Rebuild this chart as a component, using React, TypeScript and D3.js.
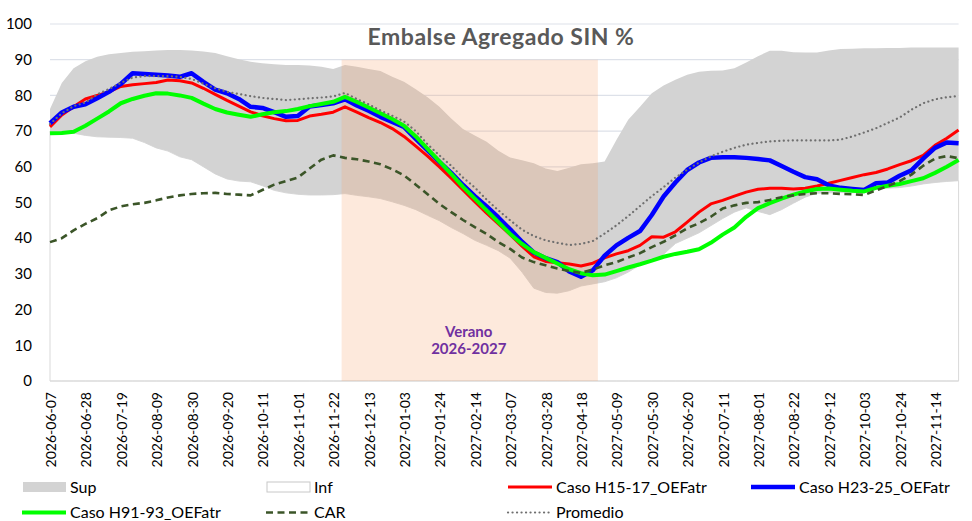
import React from 'react'
import * as d3 from 'd3'

const firstWeek = '2026-06-07'
const weekCount = 78

const tickLabels = [
  '2026-06-07', '2026-06-28', '2026-07-19', '2026-08-09', '2026-08-30', '2026-09-20', '2026-10-11',
  '2026-11-01', '2026-11-22', '2026-12-13', '2027-01-03', '2027-01-24', '2027-02-14', '2027-03-07',
  '2027-03-28', '2027-04-18', '2027-05-09', '2027-05-30', '2027-06-20', '2027-07-11', '2027-08-01',
  '2027-08-22', '2027-09-12', '2027-10-03', '2027-10-24', '2027-11-14'
]
const yTicks = [0, 10, 20, 30, 40, 50, 60, 70, 80, 90, 100]

const veranoStart = '2026-11-27'
const veranoEnd = '2027-04-28'
const veranoLabel = ['Verano', '2026-2027']

const sup = [76.2, 83.5, 87.6, 89.6, 90.8, 91.5, 91.9, 92.2, 92.4, 92.6,
  92.7, 92.7, 92.6, 92.3, 91.9, 91, 90.1, 89.4, 89, 88.7,
  88.5, 88.5, 88.4, 88, 87.4, 88.5, 88, 87.4, 86.8, 85.2,
  83.8, 81.7, 79.5, 76.8, 73.5, 70.6, 68.8, 67, 64.5, 62.6,
  61.8, 61, 59.5, 58.8, 59.7, 60.7, 61, 61.5, 67.5, 73.2,
  76.8, 80.6, 82.8, 84.4, 85.8, 86.6, 86.9, 87, 87.6, 89.2,
  91, 92.5, 92.5, 92.1, 92, 92, 92.6, 93, 93.1, 93.2,
  93.2, 93.3, 93.3, 93.4, 93.4, 93.4, 93.4, 93.4]

const inf = [70, 69.6, 69.4, 68.8, 68.4, 68.3, 68.2, 68, 66.8, 65.3,
  64.4, 62.8, 62, 60, 58, 56.6, 56, 55.8, 54.7, 53.4,
  52.7, 52.3, 52.1, 52.1, 52.2, 52.5, 52, 51.6, 51.1, 50.2,
  49.2, 48, 46.4, 44.9, 43, 41.3, 39.4, 38, 36.5, 34.4,
  30.5, 26, 24.8, 24.6, 25.3, 26.6, 27.2, 27.8, 28.9, 30.5,
  32.5, 33.5, 35.5, 38.5, 40, 41.5, 43.5, 45.5, 47.3, 48.5,
  47.5, 46.6, 48, 49.8, 51.5, 52.6, 52.7, 52.8, 52.7, 53,
  53.8, 54, 54.2, 54.6, 55.2, 55.6, 55.9, 56.1]

const casoH15 = [71.2, 74.5, 76.8, 79, 80, 81, 82.5, 83, 83.3, 83.6,
  84.3, 84.1, 83.5, 82, 80.3, 78.6, 77, 75.4, 74.3, 73.5,
  72.9, 73, 74.2, 74.7, 75.3, 76.8, 75.3, 73.8, 72.4, 70.7,
  68.5, 65.8, 63, 60, 56.8, 53.5, 50.2, 47, 44, 41,
  37.8, 34.8, 33.5, 33.1, 32.8, 32.2, 33, 34.5, 35.6, 36.5,
  38, 40.4, 40.3, 41.8, 44.5, 47.3, 49.6, 50.6, 51.8, 52.9,
  53.7, 54, 54, 53.8, 54, 54.6, 55.4, 56.2, 57, 57.8,
  58.4, 59.4, 60.6, 61.7, 63.2, 66, 68, 70.3]

const casoH23 = [72.2, 75.2, 76.8, 77.5, 79.2, 81, 83.2, 86.2, 86, 85.8,
  85.6, 85.2, 86.2, 83.8, 81.6, 80.6, 79, 76.8, 76.5, 75.3,
  74, 74.2, 76.9, 77.3, 77.8, 78.9, 77.2, 75.7, 74, 72.6,
  71.2, 67.8, 64.6, 61.4, 58.3, 54.9, 51.8, 48.9, 45.8, 42.5,
  39, 36, 34.4, 33.3, 30.7, 29.2, 31, 35.1, 38, 40.1,
  42, 46.5, 51.7, 55.6, 59.1, 61.2, 62.5, 62.7, 62.7, 62.5,
  62.2, 61.8, 60.2, 58.6, 57.1, 56.5, 54.8, 54.1, 53.8, 53.5,
  55.4, 55.6, 57.5, 59, 62.3, 65.3, 66.8, 66.6]

const casoH91 = [69.4, 69.5, 69.8, 71.5, 73.5, 75.5, 77.8, 79, 79.9, 80.6,
  80.5, 80, 79.3, 77.7, 76.2, 75.2, 74.6, 74, 74.7, 75.3,
  75.6, 76.2, 77, 77.6, 78.2, 79.6, 78.2, 76.6, 75, 73.4,
  71.5, 68.5, 65, 61.5, 58, 54.4, 51.1, 47.8, 44.5, 41.2,
  38.4, 36.1, 34.5, 32.9, 31.3, 30.2, 29.6, 29.8, 30.8, 31.8,
  32.7, 33.7, 34.8, 35.6, 36.2, 36.9, 38.7, 41, 43, 46,
  48.4, 49.8, 51.1, 52.2, 53.1, 53.8, 53.9, 53.6, 53.3, 53.1,
  54.1, 54.7, 55.2, 56, 56.8, 58.3, 60, 61.9]

const car = [38.9, 40, 42.2, 44, 45.6, 47.8, 48.9, 49.5, 49.9, 50.6,
  51.4, 52, 52.4, 52.6, 52.7, 52.4, 52.2, 52, 53.5, 55,
  56, 57, 59.5, 62, 63.2, 62.5, 62.1, 61.5, 60.7, 59.3,
  57.6, 55, 52.3, 49.6, 47.3, 45.1, 43.1, 41.2, 38.9, 37,
  34.6, 33.3, 32.4, 31.5, 30.8, 30.3, 31.2, 32.4, 33.3, 34.6,
  35.8, 37.5, 39, 40.8, 42.8, 44.2, 46, 48.3, 49.2, 49.9,
  50.1, 50.7, 51.5, 52, 52.4, 52.6, 52.6, 52.4, 52.3, 52.1,
  53.4, 54.6, 56, 57.8, 60.3, 62.3, 63, 62.4]

const promedio = [72, 75, 77, 78, 80.3, 81.8, 83.5, 85, 85.4, 85.4,
  85.4, 85.2, 84.6, 83.3, 82, 81, 80.4, 79.8, 79.3, 79,
  78.7, 78.9, 79.2, 79.4, 79.7, 80.7, 79, 77.5, 75.8, 74.3,
  72.7, 70, 66.3, 63.2, 60.3, 57, 54.2, 50.8, 47.8, 45,
  42.4, 40.6, 39.4, 38.7, 38.1, 38.4, 39.2, 41.3, 43.6, 46.2,
  49, 51.8, 54.3, 57, 59.2, 61.2, 62.9, 64.2, 65.3, 66.2,
  66.7, 67.1, 67.3, 67.4, 67.4, 67.4, 67.4, 67.6, 68.5, 69.6,
  70.8, 72.3, 73.8, 76, 77.8, 78.9, 79.5, 79.8]

const font = 'Lato, "Open Sans", sans-serif'
const parse = d3.utcParse('%Y-%m-%d')

const lineSeries = [
  { name: 'Caso H15-17_OEFatr', values: casoH15, color: '#ff0000', width: 3, dash: null as string | null, cap: 'butt' },
  { name: 'Caso H23-25_OEFatr', values: casoH23, color: '#0000ff', width: 4.5, dash: null, cap: 'butt' },
  { name: 'Caso H91-93_OEFatr', values: casoH91, color: '#00ff00', width: 4, dash: null, cap: 'butt' },
  { name: 'CAR', values: car, color: '#3b5528', width: 2.6, dash: '7,4.5', cap: 'butt' },
  { name: 'Promedio', values: promedio, color: '#6f6f6f', width: 2.2, dash: '0.1,4.4', cap: 'round' }
]

export default function App() {
  const width = 972
  const height = 521
  const left = 50
  const right = 958.6
  const top = 24
  const bottom = 381

  const start = parse(firstWeek) as Date
  const dates = d3.range(weekCount).map(i => d3.utcDay.offset(start, i * 7))

  const x = d3.scaleUtc().domain([dates[0], dates[dates.length - 1]]).range([left, right])
  const y = d3.scaleLinear().domain([0, 100]).range([bottom, top])

  const infArea = d3.area<number>().x((_, i) => x(dates[i])).y0(y(0)).y1(v => y(v))(inf)
  const bandArea = d3.area<number>().x((_, i) => x(dates[i])).y0((_, i) => y(inf[i])).y1(v => y(v))(sup)
  const lineGen = d3.line<number>().x((_, i) => x(dates[i])).y(v => y(v))

  const vx0 = x(parse(veranoStart) as Date)
  const vx1 = x(parse(veranoEnd) as Date)

  const legendRows = [
    [
      { kind: 'rect', fill: '#d3d3d3', stroke: 'none', label: 'Sup' },
      { kind: 'rect', fill: '#ffffff', stroke: '#c8c8c8', label: 'Inf' },
      { kind: 'line', s: lineSeries[0], label: lineSeries[0].name },
      { kind: 'line', s: lineSeries[1], label: lineSeries[1].name }
    ],
    [
      { kind: 'line', s: lineSeries[2], label: lineSeries[2].name },
      { kind: 'line', s: lineSeries[3], label: lineSeries[3].name },
      { kind: 'line', s: lineSeries[4], label: lineSeries[4].name }
    ]
  ]
  const legendCols = [22, 266, 508, 751]
  const legendRowsY = [487, 512.5]

  return (
    <svg width={width} height={height} viewBox={`0 0 ${width} ${height}`}
      style={{ position: 'absolute', left: 0, top: 0, background: '#fff' }} fontFamily={font}>
      {yTicks.filter(t => t > 0).map(t => (
        <line key={`g${t}`} x1={left} x2={right} y1={y(t)} y2={y(t)} stroke="#dde1e9" strokeWidth={1.2} />
      ))}
      <path d={infArea || ''} fill="#ffffff" stroke="#d9d9d9" strokeWidth={1} />
      <path d={bandArea || ''} fill="#d3d3d3" />
      <line x1={left} x2={right} y1={bottom} y2={bottom} stroke="#d9d9d9" strokeWidth={1.2} />

      <rect x={vx0} y={y(90)} width={vx1 - vx0} height={bottom - y(90)} fill="rgb(246,160,104)" fillOpacity={0.23} />
      {veranoLabel.map((t, i) => (
        <text key={t} x={(vx0 + vx1) / 2 - 1} y={337 + i * 17} textAnchor="middle" fontSize={15} fontWeight="bold" fill="#7030a0">{t}</text>
      ))}

      {lineSeries.map(s => (
        <path key={s.name} d={lineGen(s.values) || ''} fill="none" stroke={s.color} strokeWidth={s.width}
          strokeDasharray={s.dash || undefined} strokeLinecap={s.cap as any} strokeLinejoin="round" />
      ))}

      {yTicks.map(t => (
        <text key={`y${t}`} x={32} y={y(t)} dy="0.35em" textAnchor="end" fontSize={15} fill="#000">{t}</text>
      ))}
      {tickLabels.map(t => {
        const tx = x(parse(t) as Date)
        return (
          <text key={t} transform={`translate(${tx + 1},392) rotate(-90)`} dy="0.36em" textAnchor="end" fontSize={14} fill="#000">{t}</text>
        )
      })}

      <text x={501} y={45} textAnchor="middle" fontSize={23} letterSpacing={0.5} fontWeight="bold" fill="#595959">Embalse Agregado SIN %</text>

      {legendRows.map((row, r) => row.map((item: any, c) => {
        const lx = legendCols[c]
        const ly = legendRowsY[r]
        return (
          <g key={`${r}-${c}`}>
            {item.kind === 'rect'
              ? <rect x={lx + 1} y={ly - 5} width={43} height={10} fill={item.fill} stroke={item.stroke} />
              : <line x1={lx} x2={lx + 44} y1={ly} y2={ly} stroke={item.s.color} strokeWidth={item.s.width}
                  strokeDasharray={item.s.dash || undefined} strokeLinecap={item.s.cap} />}
            <text x={lx + 48} y={ly} dy="0.36em" fontSize={16} fill="#000">{item.label}</text>
          </g>
        )
      }))}
    </svg>
  )
}
